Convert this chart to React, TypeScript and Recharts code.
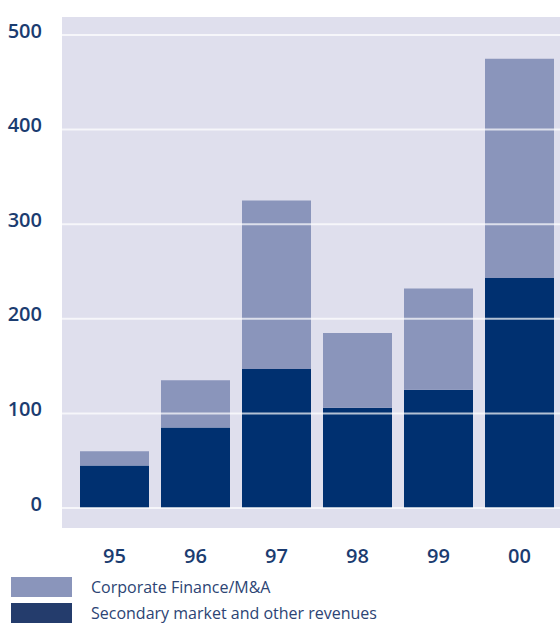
import { BarChart, Bar, XAxis, YAxis, CartesianGrid, ReferenceLine } from "recharts";

// Revenue split by year
const years = ["95", "96", "97", "98", "99", "00"];
const secondaryMarket = [45, 85, 147, 106, 125, 243];
const corporateFinance = [15, 50, 178, 79, 107, 232];
const yTicks = [0, 100, 200, 300, 400, 500];

const data = years.map((year, i) => ({
  year,
  secondary: secondaryMarket[i],
  corporate: corporateFinance[i],
}));

const DARK = "#003070";
const LIGHT = "#8a95bb";
const BG = "#dfdfed";
const TEXT = "#1b3c70";
const FONT = "'Open Sans', sans-serif";

const YTick = (props: any) => {
  const { x, y, payload } = props;
  return (
    <text
      x={x}
      y={y}
      dy={-5}
      textAnchor="end"
      dominantBaseline="central"
      fill={TEXT}
      fontSize={20}
      fontWeight={600}
      fontFamily={FONT}
    >
      {payload.value}
    </text>
  );
};

const XTick = (props: any) => {
  const { x, y, payload } = props;
  return (
    <text
      x={x}
      y={y}
      textAnchor="middle"
      fill={TEXT}
      fontSize={20}
      fontWeight={600}
      fontFamily={FONT}
    >
      {payload.value}
    </text>
  );
};

const legendItems = [
  { label: "Corporate Finance/M&A", color: LIGHT },
  { label: "Secondary market and other revenues", color: "#243c6c" },
];

export default function App() {
  return (
    <div
      style={{
        position: "fixed",
        top: 0,
        left: 0,
        width: 560,
        height: 623,
        overflow: "hidden",
        background: "#fff",
      }}
    >
      <BarChart
        width={560}
        height={570}
        data={data}
        margin={{ top: 17, right: 0, left: 0, bottom: 0 }}
        barSize={69}
      >
        <CartesianGrid fill={BG} stroke="none" horizontal={false} vertical={false} />
        <XAxis
          dataKey="year"
          axisLine={false}
          tickLine={false}
          tickSize={0}
          tickMargin={35}
          height={42}
          padding={{ left: 12, right: 0 }}
          tick={<XTick />}
        />
        <YAxis
          width={62}
          domain={[0, 500]}
          ticks={yTicks}
          axisLine={false}
          tickLine={false}
          tickSize={0}
          tickMargin={20}
          padding={{ top: 18, bottom: 20 }}
          tick={<YTick />}
        />
        <Bar dataKey="secondary" stackId="a" fill={DARK} isAnimationActive={false} />
        <Bar dataKey="corporate" stackId="a" fill={LIGHT} isAnimationActive={false} />
        {yTicks.map((t) => (
          <ReferenceLine
            key={t}
            y={t}
            stroke="#ffffff"
            strokeOpacity={0.7}
            strokeWidth={2}
          />
        ))}
      </BarChart>
      {legendItems.map((item, i) => (
        <div
          key={item.label}
          style={{
            position: "absolute",
            left: 11,
            top: 577 + i * 26,
            display: "flex",
            alignItems: "center",
          }}
        >
          <div style={{ width: 61, height: 20, background: item.color }} />
          <span
            style={{
              marginLeft: 19,
              fontFamily: FONT,
              fontSize: 16,
              lineHeight: "20px",
              color: "#2c4474",
              whiteSpace: "nowrap",
            }}
          >
            {item.label}
          </span>
        </div>
      ))}
    </div>
  );
}
